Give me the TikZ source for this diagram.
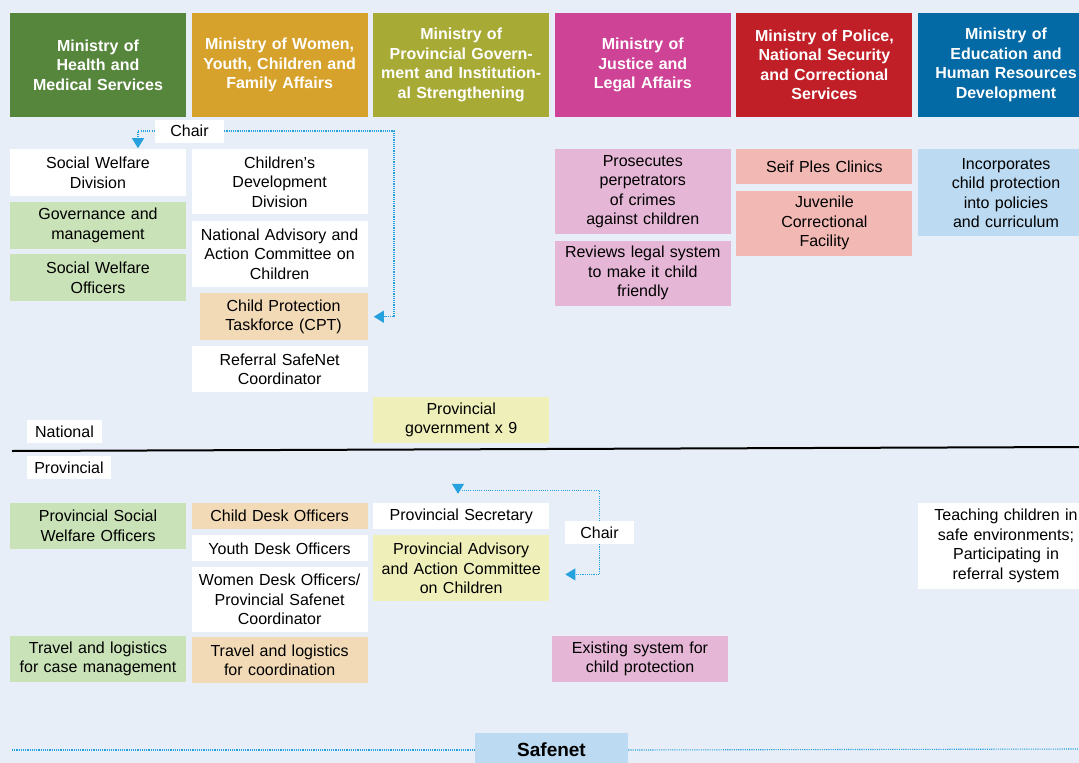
\documentclass[tikz,border=0pt]{standalone}
\usepackage{fontspec}
\setmainfont{Liberation Sans}
\usepackage{xcolor}
\usepackage{tikz}
\usetikzlibrary{arrows.meta, positioning, calc}
\definecolor{bgcol}     {HTML}{E7EEF8}
\definecolor{health}    {HTML}{56853C}
\definecolor{women}     {HTML}{D6A22C}
\definecolor{provgov}   {HTML}{A8AA36}
\definecolor{justice}   {HTML}{CF4397}
\definecolor{police}    {HTML}{C01F27}
\definecolor{education} {HTML}{036AA6}
\definecolor{ltgreen}   {HTML}{C9E2B7}
\definecolor{tan}       {HTML}{F2DAB6}
\definecolor{paleyel}   {HTML}{EFF0B9}
\definecolor{pink}      {HTML}{E5B6D6}
\definecolor{salmon}    {HTML}{F2B8B4}
\definecolor{ltblue}    {HTML}{BCDAF1}
\definecolor{dotblue}   {HTML}{25A2DD}

\begin{document}
\begin{tikzpicture}[
    x=1pt, y=-1pt,
    node distance=32pt and 5.2pt,
    head/.style={fill=health, text=white, inner sep=0pt,
                 text width=176pt, align=center, minimum height=104pt,
                 font=\fontsize{16}{19.5}\selectfont\bfseries},
    box/.style={fill=white, inner sep=0pt,
                text width=176pt, align=center,
                font=\fontsize{16}{19.5}\selectfont},
    lbl/.style={fill=white, inner sep=0pt, minimum height=23pt,
                font=\fontsize{16}{19.5}\selectfont},
    chairline/.style={dotblue, line width=1.1pt, dash pattern=on 1.1pt off 1.1pt,
                      -{Triangle[length=10pt, width=12pt]}},
    safeline/.style={dotblue, line width=1.1pt, dash pattern=on 1.1pt off 1.1pt},
  ]
    \useasboundingbox (0,0) rectangle (1079,763);
    \fill[bgcol] (0,0) rectangle (1079,763);

    % ministries
    \node[head] (health) at (98,65)
      {Ministry of\\Health and\\Medical Services};
    \node[head, fill=women, right=of health] (women)
      {Ministry of Women,\\Youth, Children and\\Family Affairs};
    \node[head, fill=provgov, right=of women] (provgov)
      {Ministry of\\Provincial Govern-\\ment and Institution-\\al Strengthening};
    \node[head, fill=justice, right=of provgov] (justice)
      {Ministry of\\Justice and\\Legal Affairs};
    \node[head, fill=police, right=of justice] (police)
      {Ministry of Police,\\National Security\\and Correctional\\Services};
    \node[head, fill=education, right=of police] (education)
      {Ministry of\\Education and\\Human Resources\\Development};

    % national level
    \node[box, minimum height=47pt, below=of health] (swd)
      {Social Welfare\\Division};
    \node[box, fill=ltgreen, minimum height=47pt, below=5pt of swd] (gov)
      {Governance and\\management};
    \node[box, fill=ltgreen, minimum height=47pt, below=5pt of gov] (swo)
      {Social Welfare\\Officers};

    \node[box, minimum height=65pt, below=of women] (cdd)
      {Children’s\\Development\\Division};
    \node[box, minimum height=66pt, below=6pt of cdd] (naac)
      {National Advisory and\\Action Committee on\\Children};
    \node[box, fill=tan, text width=168pt, minimum height=47pt,
          anchor=north east] (cpt) at ([yshift=-6pt]naac.south east)
      {Child Protection\\Taskforce (CPT)};
    \node[box, minimum height=46pt, anchor=north] (rsc) at (279.6,346)
      {Referral SafeNet\\Coordinator};

    \node[box, fill=paleyel, minimum height=46pt] (pgov) at (461.2,420)
      {Provincial\\government x 9};

    \node[box, fill=pink, minimum height=85pt, below=of justice] (pros)
      {Prosecutes\\perpetrators\\of crimes\\against children};
    \node[box, fill=pink, minimum height=65pt, below=6pt of pros] (rev)
      {Reviews legal system\\to make it child\\friendly};

    \node[box, fill=salmon, minimum height=35pt, below=of police] (seif)
      {Seif Ples Clinics};
    \node[box, fill=salmon, minimum height=65pt, below=6pt of seif] (juv)
      {Juvenile\\Correctional\\Facility};

    \node[box, fill=ltblue, minimum height=87pt, below=of education] (incorp)
      {Incorporates\\child protection\\into policies\\and curriculum};

    \node[lbl, minimum width=69pt] (chair1) at (189.5,131) {Chair};
    \coordinate (swdin) at (138,136);
    \coordinate (cptbend) at (394,0);
    \draw[chairline, shorten >=1pt] (chair1.west) -| (swdin) -- (swd.north -| swdin);
    \draw[chairline, shorten >=6pt] (chair1.east) -| (cptbend |- cpt.east) -- (cpt.east);

    % divider
    \draw[line width=2pt] (12,451) -- (1079,447);
    \node[lbl, minimum width=75pt] (national) at (64.5,431.5) {National};
    \node[lbl, minimum width=84pt] (provincial) at (69,467.5) {Provincial};

    % provincial level
    \node[box, fill=ltgreen, minimum height=46pt] (pswo) at (98,526)
      {Provincial Social\\Welfare Officers};
    \node[box, fill=ltgreen, minimum height=46pt] (tlcm) at (98,659)
      {Travel and logistics\\for case management};

    \node[box, fill=tan, minimum height=26pt] (cdo) at (279.6,516)
      {Child Desk Officers};
    \node[box, minimum height=26pt, below=6pt of cdo] (ydo)
      {Youth Desk Officers};
    \node[box, minimum height=65pt, below=5pt of ydo] (wdo)
      {Women Desk Officers/\\Provincial Safenet\\Coordinator};
    \node[box, fill=tan, minimum height=46pt, below=5pt of wdo] (tlco)
      {Travel and logistics\\for coordination};

    \node[box, minimum height=26pt] (psec) at (461.2,516)
      {Provincial Secretary};
    \node[box, fill=paleyel, minimum height=66pt, below=6pt of psec] (paac)
      {Provincial Advisory\\and Action Committee\\on Children};

    \node[box, fill=pink, minimum height=46pt] (exist) at (640,659)
      {Existing system for\\child protection};

    \node[box, minimum height=86pt] (teach) at (1006,546)
      {Teaching children in\\safe environments;\\Participating in\\referral system};

    \node[lbl, minimum width=69pt] (chair2) at (599.5,532.5) {Chair};
    \coordinate (psecin) at (458,490.5);
    \draw[chairline, shorten >=9pt] (chair2.north) |- (psecin) -- (psecin |- psec.north);
    \draw[chairline, shorten >=16pt] (chair2.south) |- ([yshift=-6pt]paac.east);

    % safenet
    \node[fill=ltblue, inner sep=0pt, minimum width=153pt, minimum height=34pt,
          font=\fontsize{19}{22}\selectfont\bfseries] (safenet) at (551.5,750) {Safenet};
    \coordinate (sfl) at (12,750);
    \coordinate (sfr) at (1079,749);
    \draw[safeline] (sfl) -- (safenet.west);
    \draw[safeline] (safenet.east) -- (sfr);
  \end{tikzpicture}
\end{document}
